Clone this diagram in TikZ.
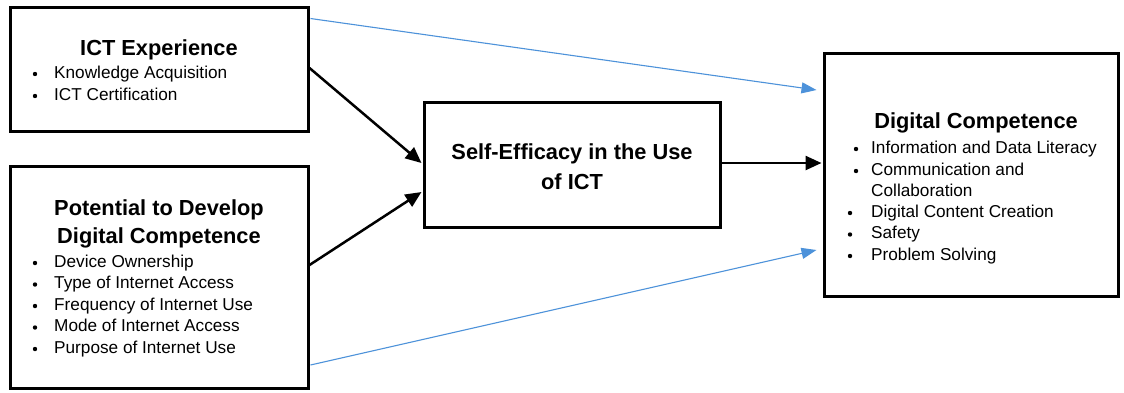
\documentclass[tikz,border=0pt]{standalone}
\usepackage{fontspec}
\setmainfont{Liberation Sans}
\usetikzlibrary{arrows.meta,calc}
\definecolor{arrowblue}{RGB}{77,146,218}
\begin{document}
\begin{tikzpicture}[x=1pt,y=-1pt,
  box/.style={draw=black,line width=3pt,rectangle,inner sep=0pt},
  title/.style={anchor=base,font=\bfseries\fontsize{21.8}{26}\selectfont,inner sep=0pt},
  item/.style={anchor=base west,font=\fontsize{17.2}{20}\selectfont,inner sep=0pt},
  blackarrow/.style={line width=2.5pt,-{Triangle[length=16pt,width=14pt]}},
  bluearrow/.style={draw=arrowblue,line width=1.1pt,-{Triangle[length=15pt,width=11pt]},color=arrowblue},
  dot/.style={fill=black}]
\useasboundingbox (0,0) rectangle (1124,392);
\fill[white] (0,0) rectangle (1124,392);
% boxes
\node[box,minimum width=298pt,minimum height=124pt] (ict) at (159,69) {};
\node[box,minimum width=298pt,minimum height=222pt] (pot) at (159,277) {};
\node[box,minimum width=296pt,minimum height=125pt] (self) at (572,164.5) {};
\node[box,minimum width=294pt,minimum height=243pt] (dc) at (971,174.5) {};
% ICT Experience
\node[title] (t1) at (159,55) {ICT Experience};
\node[item] (i11) at (54,78) {Knowledge Acquisition};
\node[item] (i12) at (54,100) {ICT Certification};
\foreach \y in {78,100} \fill[dot] (35,\y-4) circle (2.2);
% Potential
\node[title] (t2a) at (159,215) {Potential to Develop};
\node[title] (t2b) at (159,243) {Digital Competence};
\node[item] (i21) at (54,267) {Device Ownership};
\node[item] (i22) at (54,288.5) {Type of Internet Access};
\node[item] (i23) at (54,310) {Frequency of Internet Use};
\node[item] (i24) at (54,331.5) {Mode of Internet Access};
\node[item] (i25) at (54,353) {Purpose of Internet Use};
\foreach \y in {267,288.5,310,331.5,353} \fill[dot] (35,\y-4) circle (2.2);
% Self-efficacy
\node[title] (t3a) at (572,159) {Self-Efficacy in the Use};
\node[title] (t3b) at (572,189) {of ICT};
% Digital competence
\node[title] (t4) at (976,128) {Digital Competence};
\node[item] (i41) at (871,153) {Information and Data Literacy};
\node[item] (i42) at (871,175) {Communication and};
\node[item] (i42b) at (871,196) {Collaboration};
\node[item] (i43) at (871,217) {Digital Content Creation};
\node[item] (i44) at (871,238.5) {Safety};
\node[item] (i45) at (871,260) {Problem Solving};
\foreach \x/\y in {856/153,856/175,850/217,850/238.5,850/260} \fill[dot] (\x,\y-4) circle (2.2);
% arrows
\draw[blackarrow] ($(ict.east)+(0,-1)$) -- ($(self.west)+(-1,-1.5)$);
\draw[blackarrow] ($(pot.east)+(0,-12)$) -- ($(self.west)+(-1,27.5)$);
\draw[blackarrow] ($(self.east)+(0,-1.5)$) -- ($(self.east -| dc.west)+(-1,-1.5)$);
\draw[bluearrow] ($(ict.north east)+(1,13)$) -- ($(dc.west)+(-6,-84.5)$);
\draw[bluearrow] ($(pot.east)+(1,88)$) -- ($(dc.west)+(-6,75.5)$);
\end{tikzpicture}
\end{document}
